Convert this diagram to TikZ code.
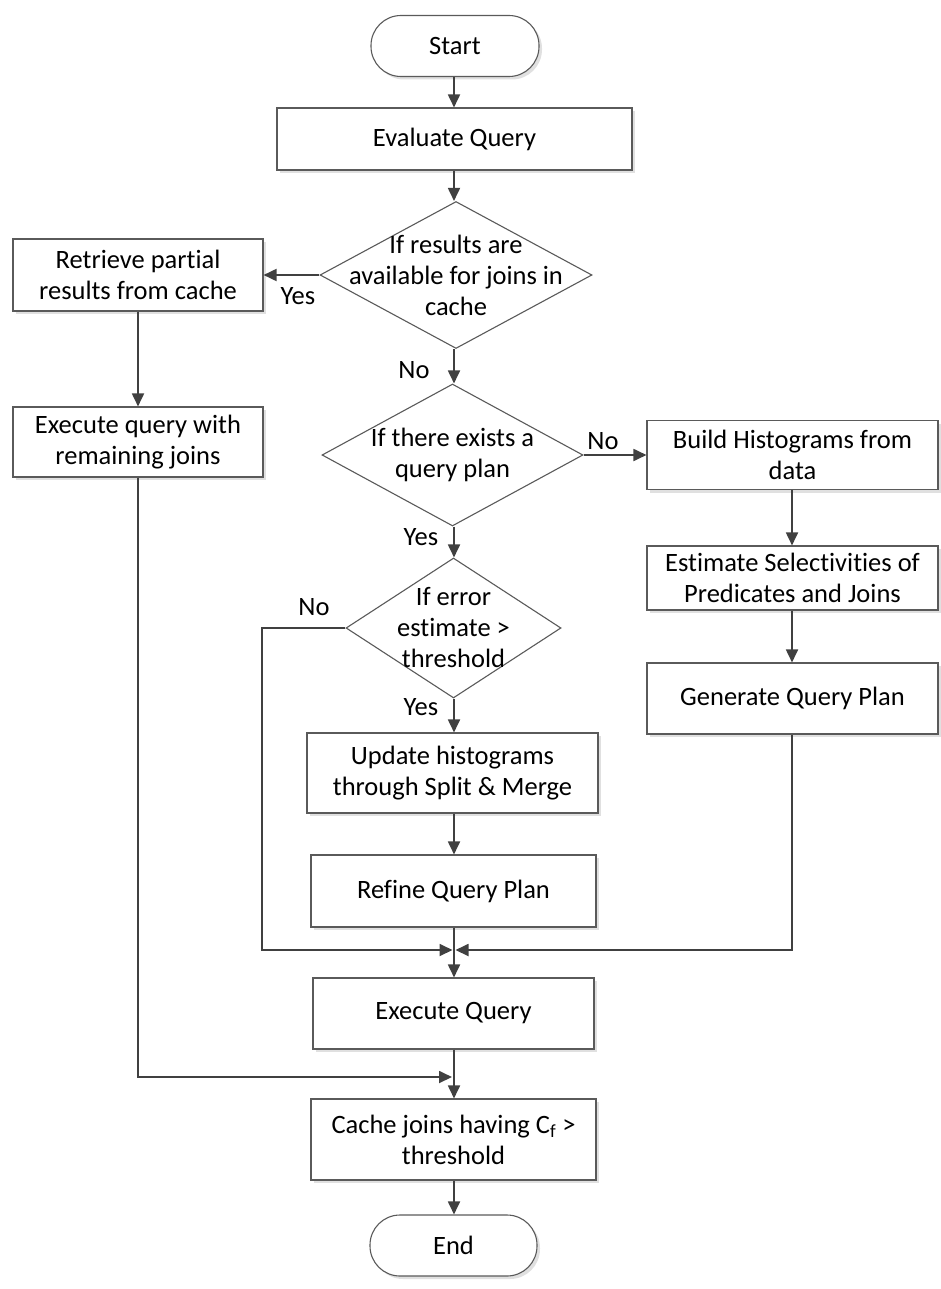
\documentclass[tikz,border=0pt]{standalone}
\usepackage{fontspec}
\setmainfont{Carlito}[Ligatures=NoCommon]
\usetikzlibrary{arrows.meta,shapes.geometric,shadows}
\definecolor{lc}{HTML}{404040}
\definecolor{bc}{HTML}{5A5A5A}
\tikzset{
  every node/.style={font=\fontsize{26.5}{31}\selectfont, text=black},
  shad/.style={drop shadow={shadow xshift=3pt, shadow yshift=-3pt, fill=black!12, opacity=1}},
  box/.style={draw=bc, line width=1.1pt, fill=white, align=center, inner sep=0pt, shad},
  term/.style={box, rounded corners=30pt},
  dia/.style={diamond, draw=bc, line width=1.1pt, fill=white, inner sep=0pt},
  lbl/.style={inner sep=0pt},
  conn/.style={draw=lc, line width=1.8pt, -{Triangle[length=13pt,width=12pt]}},
  plain/.style={draw=lc, line width=1.8pt}
}
\begin{document}
\begin{tikzpicture}[x=1pt,y=-1pt]
\useasboundingbox (0,0) rectangle (940,1289);
% nodes
\node[term, minimum width=168, minimum height=61] (start) at (455,46) {Start};
\node[box, minimum width=355, minimum height=62] (eval) at (454.5,139) {Evaluate Query};
\node[dia, minimum width=272, minimum height=147] (d1) at (456,275) {};
\node[lbl, align=center] (t1) at (d1) {If results are\\available for joins in\\cache};
\node[box, minimum width=250, minimum height=72] (retr) at (138,275) {Retrieve partial\\results from cache};
\node[box, minimum width=250, minimum height=70] (exq) at (138,442) {Execute query with\\remaining joins};
\node[dia, minimum width=261, minimum height=142] (d2) at (452.5,455) {};
\node[lbl, align=center] (t2) at (d2) {If there exists a\\query plan};
\node[box, minimum width=291, minimum height=69] (build) at (792.5,455) {Build Histograms from\\data};
\node[box, minimum width=291, minimum height=64] (est) at (792.5,578) {Estimate Selectivities of\\Predicates and Joins};
\node[box, minimum width=291, minimum height=71] (gen) at (792.5,698.5) {Generate Query Plan};
\node[dia, minimum width=215, minimum height=140] (d3) at (453.5,628) {};
\node[lbl, align=center] (t3) at (d3) {If error\\estimate >\\threshold};
\node[box, minimum width=291, minimum height=80] (upd) at (452.5,773) {Update histograms\\through Split \& Merge};
\node[box, minimum width=285, minimum height=72] (ref) at (453.5,891) {Refine Query Plan};
\node[box, minimum width=281, minimum height=71] (exe) at (453.5,1013.5) {Execute Query};
\node[box, minimum width=285, minimum height=81] (cache) at (453.5,1139.5) {Cache joins having C\textsubscript{f} >\\threshold};
\node[term, minimum width=167, minimum height=61] (end) at (453.5,1245.5) {End};
% labels
\node[lbl] (yes1) at (298,296) {Yes};
\node[lbl] (no1) at (414,370) {No};
\node[lbl] (no2) at (603,441) {No};
\node[lbl] (yes2) at (421,537) {Yes};
\node[lbl] (no3) at (314,607) {No};
\node[lbl] (yes3) at (421,707) {Yes};
% merge points
\coordinate (m) at (454,950);
\coordinate (m2) at (454,1077);
% connectors
\draw[conn] (start.south -| 454,0) -- (eval.north -| 454,0);
\draw[conn] (eval.south -| 454,0) -- (d1.north -| 454,0);
\draw[conn] (d1.west) -- (retr.east);
\draw[conn] (d1.south -| 454,0) -- (d2.north -| 454,0);
\draw[conn] (d2.east) -- (build.west);
\draw[conn] (build.south -| 792,0) -- (est.north -| 792,0);
\draw[conn] (est.south -| 792,0) -- (gen.north -| 792,0);
\draw[conn, shorten >=1.5pt] (gen.south -| 792,0) |- (m);
\draw[conn] (d2.south -| 454,0) -- (d3.north -| 454,0);
\draw[conn, shorten >=1.5pt] (d3.west) -- (262,628) |- (m);
\draw[conn] (d3.south -| 454,0) -- (upd.north -| 454,0);
\draw[conn] (upd.south -| 454,0) -- (ref.north -| 454,0);
\draw[conn] (ref.south -| 454,0) -- (exe.north -| 454,0);
\draw[conn] (retr.south) -- (exq.north);
\draw[conn, shorten >=2pt] (exq.south) |- (m2);
\draw[conn] (exe.south -| 454,0) -- (cache.north -| 454,0);
\draw[conn] (cache.south -| 454,0) -- (end.north -| 454,0);
\end{tikzpicture}
\end{document}
